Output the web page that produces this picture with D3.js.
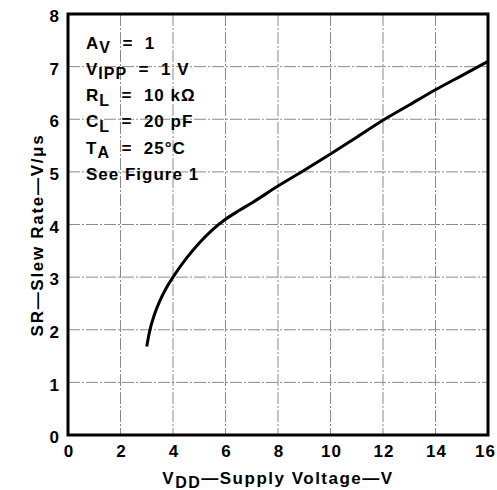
<!DOCTYPE html>
<html><head><meta charset="utf-8">
<script src="https://cdn.jsdelivr.net/npm/d3@7"></script>
<style>
body{margin:0;background:#fff;}
text{font-family:"Liberation Sans",Arial,sans-serif;font-weight:bold;fill:#000;white-space:pre;}
</style></head>
<body><svg id="c" width="497" height="490"></svg>
<script>
const xTicks = [0,2,4,6,8,10,12,14,16];
const yTicks = [0,1,2,3,4,5,6,7,8];
const vdd = [3.0,3.1,3.3,3.5,3.75,4.0,4.5,5.0,5.5,6.0,6.5,7.0,8.0,9.0,10.0,11.0,12.0,13.0,14.0,15.0,16.0];
const slewRate = [1.68,1.95,2.3,2.55,2.8,3.0,3.35,3.65,3.9,4.1,4.26,4.41,4.73,5.03,5.34,5.66,5.98,6.27,6.56,6.83,7.1];
const legendLines = [
  [["A",0],["V",1],["  =  1",0]],
  [["V",0],["IPP",1],["  =  1 V",0]],
  [["R",0],["L",1],["  =  10 kΩ",0]],
  [["C",0],["L",1],["  =  20 pF",0]],
  [["T",0],["A",1],["  =  25°C",0]],
  [["See Figure 1",0]]
];

const svg = d3.select("#c");
const L=68,R=488,T=14,B=435;
const x = d3.scaleLinear().domain([0,16]).range([L,R]);
const y = d3.scaleLinear().domain([0,8]).range([B,T]);

// grid
const g = svg.append("g");
g.selectAll(".gx").data(xTicks.slice(1,-1)).enter().append("line")
  .attr("x1",d=>x(d)).attr("x2",d=>x(d)).attr("y1",T).attr("y2",B)
  .attr("stroke","#8a8a8a").attr("stroke-width",1).attr("stroke-dasharray","12,2,2,2");
g.selectAll(".gy").data(yTicks.slice(1,-1)).enter().append("line")
  .attr("y1",d=>y(d)).attr("y2",d=>y(d)).attr("x1",L).attr("x2",R)
  .attr("stroke","#8a8a8a").attr("stroke-width",1).attr("stroke-dasharray","12,2,2,2");

// axes labels via d3 axes
const xa = svg.append("g").attr("transform",`translate(0.6,${B})`)
  .call(d3.axisBottom(x).tickValues(xTicks).tickSize(0).tickPadding(10).tickFormat(d3.format("d")));
xa.select(".domain").remove();
xa.selectAll("text").style("font-size","17px").style("font-family","Liberation Sans, Arial").style("font-weight","bold")
  .style("letter-spacing","1.2px").attr("dy","0.71em");
xa.selectAll(".tick").filter(d=>d===16).select("text").attr("dx","-3.5");
const ya = svg.append("g").attr("transform",`translate(${L},0)`)
  .call(d3.axisLeft(y).tickValues(yTicks).tickSize(0).tickPadding(9).tickFormat(d3.format("d")));
ya.select(".domain").remove();
ya.selectAll("text").style("font-size","17px").style("font-family","Liberation Sans, Arial").style("font-weight","bold").attr("dy","0.45em");

// curve
const line = d3.line().x((d,i)=>x(vdd[i])).y(d=>y(d)).curve(d3.curveMonotoneX);
svg.append("path").datum(slewRate).attr("d",line).attr("fill","none")
  .attr("stroke","#000").attr("stroke-width",3);

// border
svg.append("rect").attr("x",L).attr("y",T).attr("width",R-L).attr("height",B-T)
  .attr("fill","none").attr("stroke","#000").attr("stroke-width",3);

// legend
legendLines.forEach((parts,i)=>{
  const t = svg.append("text").attr("x",86).attr("y",48.5+i*26.3).style("font-size","17px").style("letter-spacing","1px");
  parts.forEach((p,j)=>{
    const ts = t.append("tspan").text(p[0]);
    if(p[1]) ts.attr("dy","4.5").style("font-size","16px");
    else if(j>0) ts.attr("dy","-4.5");
  });
});

// x title
const xt = svg.append("text").attr("x",278).attr("y",484).attr("text-anchor","middle").style("font-size","17px").style("letter-spacing","1.5px");
xt.append("tspan").text("V");
xt.append("tspan").text("DD").attr("dy","4").style("font-size","16px");
xt.append("tspan").text("—Supply Voltage—V").attr("dy","-4");

// y title
svg.append("text").attr("transform","translate(43,235) rotate(-90)").attr("text-anchor","middle")
  .style("font-size","17px").style("letter-spacing","1.7px").text("SR—Slew Rate—V/μs");
</script></body></html>
